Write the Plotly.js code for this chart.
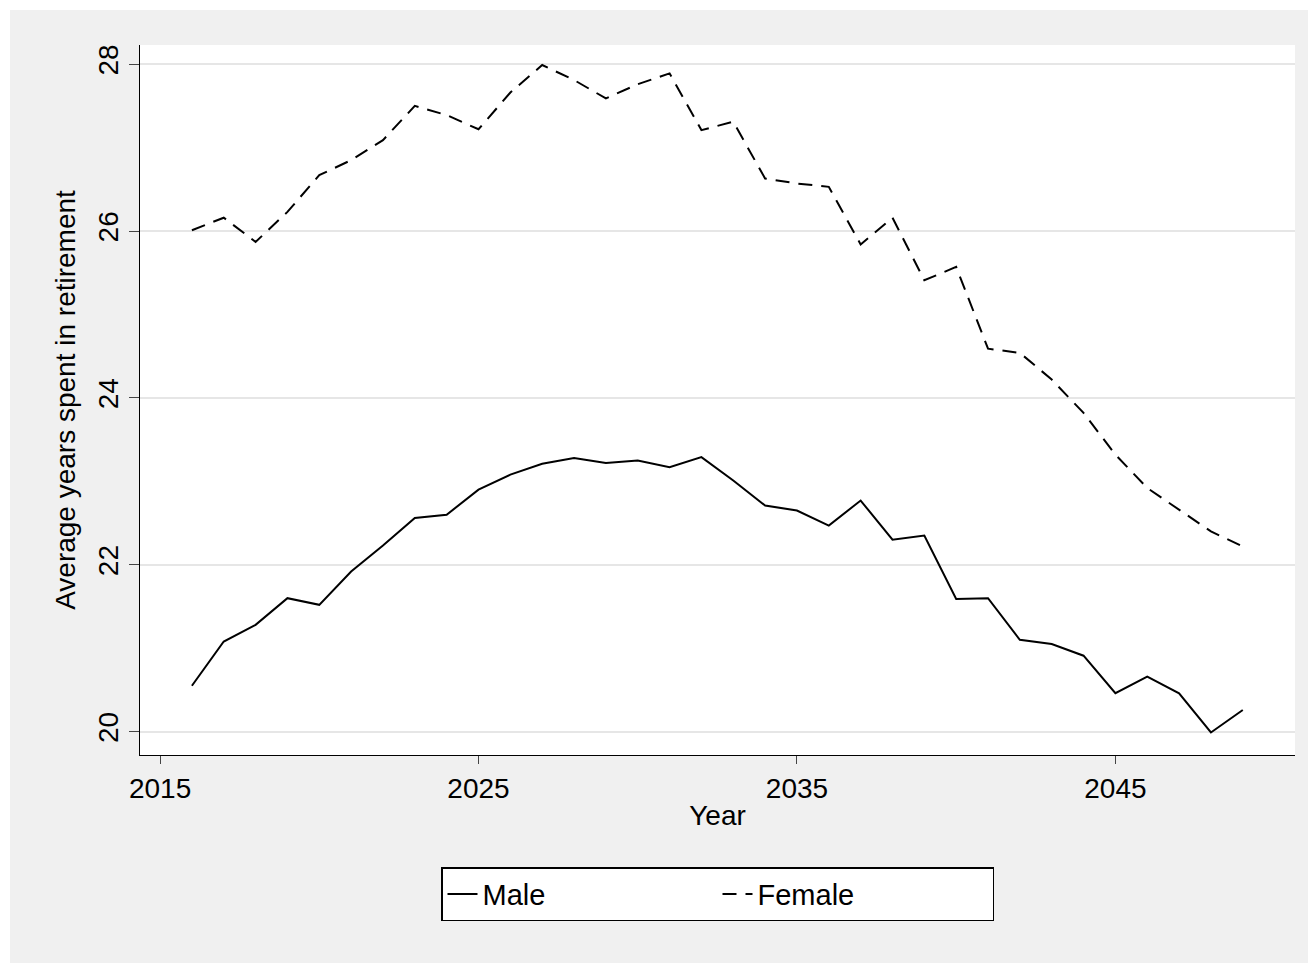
<!DOCTYPE html>
<html><head><script src="https://cdn.plot.ly/plotly-3.0.1.min.js"></script>
<style>body{margin:0;background:#fff;}#c{position:absolute;left:10px;top:10px;width:1298px;height:953px;}</style></head>
<body><div id="c"></div><script>
const years=[2016,2017,2018,2019,2020,2021,2022,2023,2024,2025,2026,2027,2028,2029,2030,2031,2032,2033,2034,2035,2036,2037,2038,2039,2040,2041,2042,2043,2044,2045,2046,2047,2048,2049];
const male=[20.55,21.08,21.28,21.60,21.52,21.92,22.23,22.56,22.60,22.90,23.08,23.21,23.28,23.22,23.25,23.17,23.29,23.01,22.71,22.65,22.47,22.77,22.30,22.35,21.59,21.60,21.10,21.05,20.91,20.46,20.66,20.46,19.99,20.26];
const female=[26.01,26.16,25.87,26.23,26.67,26.85,27.09,27.50,27.39,27.22,27.66,27.99,27.81,27.59,27.76,27.89,27.21,27.31,26.63,26.57,26.53,25.84,26.16,25.41,25.57,24.59,24.54,24.22,23.82,23.32,22.92,22.66,22.40,22.22];
const xticks=[2015,2025,2035,2045];
const yticks=[20,22,24,26,28];
const f={family:'Liberation Sans, Arial, sans-serif',color:'#000'};
Plotly.newPlot('c',[
{x:years,y:male,name:'Male',mode:'lines',line:{color:'#000',width:2}},
{x:years,y:female,name:'Female',mode:'lines',line:{color:'#000',width:2,dash:'14px,9px'}}
],{
width:1298,height:953,paper_bgcolor:'#f0f0f0',plot_bgcolor:'#fff',
margin:{l:130,r:13,t:35,b:208},showlegend:true,font:f,
xaxis:{range:[2014.37,2050.64],tickvals:xticks,ticks:'outside',ticklen:8,showgrid:false,zeroline:false,showline:true,linecolor:'#000',tickfont:{size:28,family:f.family},title:{text:'Year',font:{size:28},standoff:2}},
yaxis:{range:[19.72,28.23],tickvals:yticks,ticks:'outside',ticklen:10,tickangle:-90,gridcolor:'#e6e6e6',gridwidth:2,zeroline:false,showline:true,linecolor:'#000',tickfont:{size:28,family:f.family},title:{text:'Average years spent in retirement',font:{size:28},standoff:8}},
legend:{orientation:'h',x:0.5,xanchor:'center',y:-0.196,yanchor:'middle',bgcolor:'#fff',bordercolor:'#000',borderwidth:1.5,font:{size:29},entrywidth:230}
},{displayModeBar:false});
</script></body></html>
